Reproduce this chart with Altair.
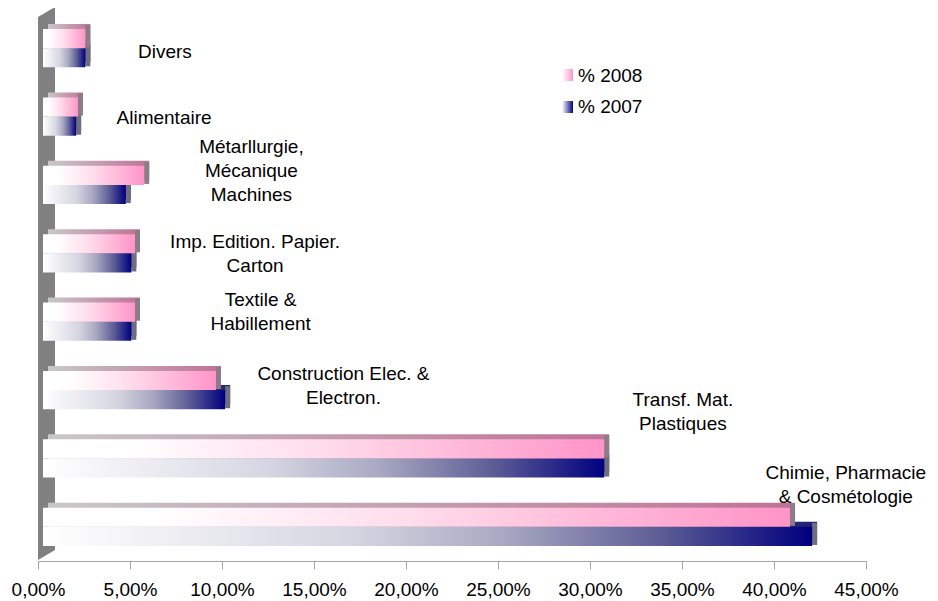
import altair as alt
import pandas as pd

# ---- data ----
labels = [
    "Divers",
    "Alimentaire",
    "Métarllurgie,\nMécanique\nMachines",
    "Imp. Edition. Papier.\nCarton",
    "Textile &\nHabillement",
    "Construction Elec. &\nElectron.",
    "Transf. Mat.\nPlastiques",
    "Chimie, Pharmacie\n& Cosmétologie",
]
pct_2008 = [2.3, 1.9, 5.5, 5.0, 5.0, 9.4, 30.5, 40.6]
pct_2007 = [2.3, 1.8, 4.5, 4.8, 4.8, 9.9, 30.5, 41.8]
series_names = ["% 2008", "% 2007"]
# label anchors (x in %, y of first line in category units)
label_x = [6.9, 6.85, 11.6, 11.8, 12.1, 16.6, 35.05, 43.9]
label_y = [0.05, 1.02, 1.45, 2.83, 3.68, 4.77, 5.14, 6.21]
x_ticks = [0, 5, 10, 15, 20, 25, 30, 35, 40, 45]

FONT = "Liberation Sans"
W, H = 828, 547
HALF = 0.28

rows = []
for i, lab in enumerate(labels):
    rows.append({"idx": i, "series": series_names[0], "value": pct_2008[i],
                 "y0": i - HALF, "y1": i, "start": 0})
    rows.append({"idx": i, "series": series_names[1], "value": pct_2007[i],
                 "y0": i, "y1": i + HALF, "start": 0})
bars = pd.DataFrame(rows)
lab_df = pd.DataFrame({"text": labels, "lx": label_x, "ly": label_y})

xscale = alt.Scale(domain=[0, 45], nice=False, zero=False)
yscale = alt.Scale(domain=[-0.5, 7.5], reverse=True, nice=False, zero=False)

xaxis = alt.Axis(
    values=x_ticks, title=None, grid=False,
    labelExpr="replace(format(datum.value, '.2f'), '.', ',') + '%'",
    labelFont=FONT, labelFontSize=19, labelColor="#000000",
    domainColor="#a6a6a6", tickColor="#a6a6a6", tickSize=8, labelPadding=11,
    labelFlush=False,
)

def grad(*stops):
    return alt.Gradient(
        gradient="linear",
        stops=[alt.GradientStop(color=c, offset=o) for o, c in stops],
        x1=0, x2=1, y1=0, y2=0,
    )

PINK = grad((0, "#ffffff"), (0.15, "#ffffff"), (0.5, "#ffdcea"), (1, "#ff94c8"))
NAVY = grad((0, "#ffffff"), (0.4, "#d6d6e2"), (0.6, "#a8a8c2"), (0.8, "#5e5e96"), (1, "#000080"))
PINK_TOP = grad((0, "#c8c8c8"), (1, "#bf7396"))
NAVY_TOP = grad((0, "#c8c8d0"), (1, "#20206e"))

base = alt.Chart(bars)

def layer(series, mark):
    return base.transform_filter(alt.datum.series == series).mark_rect(**mark).encode(
        x=alt.X("start:Q", scale=xscale, axis=xaxis),
        x2="value:Q",
        y=alt.Y("y0:Q", scale=yscale, axis=None),
        y2="y1:Q",
    )

def side(series, color):
    return base.transform_filter(alt.datum.series == series).mark_rect(
        color=color, xOffset=5, x2Offset=10, yOffset=-4, y2Offset=-1
    ).encode(
        x=alt.X("value:Q", scale=xscale, axis=xaxis),
        x2="value:Q",
        y=alt.Y("y0:Q", scale=yscale, axis=None),
        y2="y1:Q",
    )

one = pd.DataFrame({"k": [0]})
wall = alt.Chart(one).mark_point(
    shape="M-0.0307,-0.964 L0.0307,-1 L0.0307,0.964 L-0.0307,1 Z",
    filled=True, color="#808080", opacity=1, size=305809, strokeWidth=0,
).encode(x=alt.value(8.5), y=alt.value(269.5))

back_n = layer("% 2007", dict(color=NAVY_TOP, xOffset=10, x2Offset=10, yOffset=-5, y2Offset=-5))
back_p = layer("% 2008", dict(color=PINK_TOP, xOffset=10, x2Offset=10, yOffset=-5, y2Offset=-5))
side_n = side("% 2007", "#6e6e80")
side_p = side("% 2008", "#8c7c86")
front_n = layer("% 2007", dict(color=NAVY, xOffset=5, x2Offset=5))
front_p = layer("% 2008", dict(color=PINK, xOffset=5, x2Offset=5))

texts = alt.Chart(lab_df).mark_text(
    align="center", baseline="middle", lineBreak="\n", font=FONT,
    fontSize=19, lineHeight=24, color="#000000",
).encode(
    x=alt.X("lx:Q", scale=xscale, axis=xaxis),
    y=alt.Y("ly:Q", scale=yscale, axis=None),
    text="text:N",
)

leg_sw_p = alt.Chart(one).mark_rect(color=grad((0, "#ffffff"), (1, "#ff94c8"))).encode(
    x=alt.value(524), x2=alt.value(535), y=alt.value(55), y2=alt.value(67))
leg_sw_n = alt.Chart(one).mark_rect(color=grad((0, "#ffffff"), (1, "#000080"))).encode(
    x=alt.value(524), x2=alt.value(535), y=alt.value(87), y2=alt.value(99))
leg_t_p = alt.Chart(one).mark_text(align="left", baseline="middle", font=FONT,
                                   fontSize=19, color="#000000", text=series_names[0]).encode(
    x=alt.value(540), y=alt.value(62))
leg_t_n = alt.Chart(one).mark_text(align="left", baseline="middle", font=FONT,
                                   fontSize=19, color="#000000", text=series_names[1]).encode(
    x=alt.value(540), y=alt.value(93))

chart = alt.layer(
    wall, back_n, back_p, side_n, side_p, front_n, front_p, texts,
    leg_sw_p, leg_sw_n, leg_t_p, leg_t_n,
).properties(
    width=W, height=H,
    padding={"left": 30, "top": 6, "right": 64, "bottom": 38},
    autosize=alt.AutoSizeParams(type="none"),
    background="#ffffff",
).configure_view(stroke=None)

chart.save("out.html", embed_options={"renderer": "svg", "actions": False})
